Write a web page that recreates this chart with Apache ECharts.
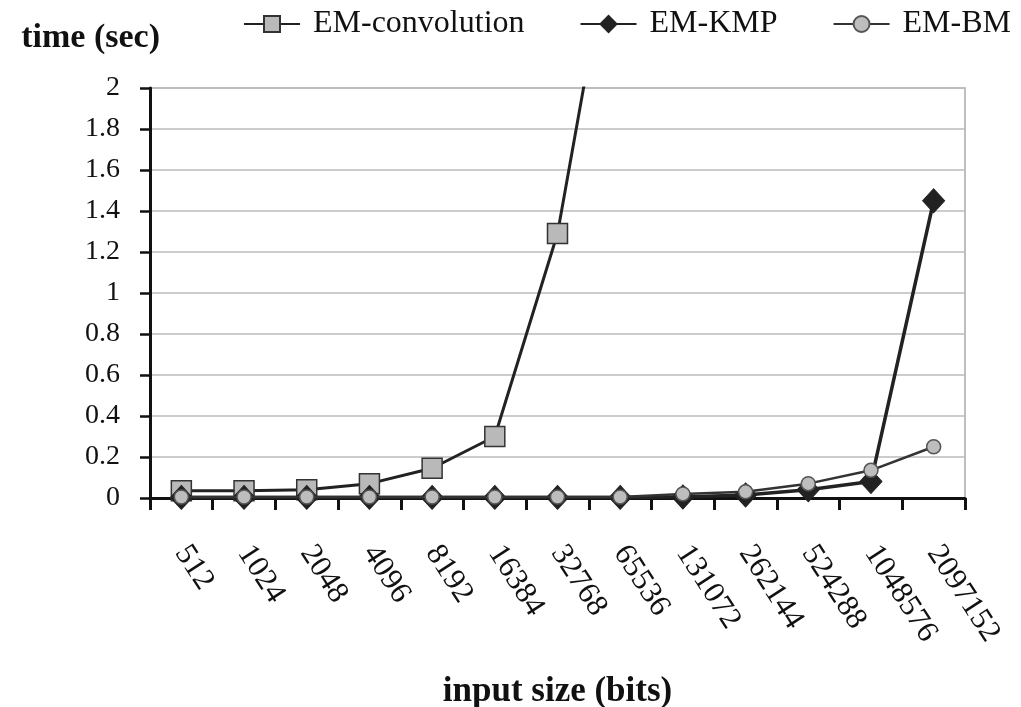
<!DOCTYPE html>
<html>
<head>
<meta charset="utf-8">
<script src="https://cdn.jsdelivr.net/npm/echarts@6/dist/echarts.min.js"></script>
<style>html,body{margin:0;padding:0;background:#fff;}#chart{width:1021px;height:707px;}</style>
</head>
<body>
<div id="chart"></div>
<script>
const categories = ['512','1024','2048','4096','8192','16384','32768','65536','131072','262144','524288','1048576','2097152'];
const emConvolution = [0.035, 0.035, 0.04, 0.07, 0.145, 0.30, 1.29, 3.0, null, null, null, null, null];
const emKMP = [0.003, 0.003, 0.003, 0.003, 0.003, 0.003, 0.003, 0.003, 0.005, 0.015, 0.04, 0.08, 1.45];
const emBM = [0.005, 0.005, 0.005, 0.005, 0.005, 0.005, 0.005, 0.005, 0.02, 0.03, 0.07, 0.135, 0.25];
const yTicks = {min: 0, max: 2, interval: 0.2};

const font = 'Liberation Serif, Times New Roman, serif';
const chart = echarts.init(document.getElementById('chart'));
chart.setOption({
  animation: false,
  backgroundColor: '#fff',
  textStyle: {fontFamily: font},
  grid: {left: 150, right: 56, top: 88, bottom: 209, show: true, borderColor: '#aaa', borderWidth: 1.5,
         containLabel: false, outerBoundsMode: 'none'},
  legend: {
    left: 238, top: 3,
    itemWidth: 56, itemHeight: 20, itemGap: 55,
    textStyle: {fontFamily: font, fontSize: 32, color: '#111', padding: [0, 0, 0, 8]},
    data: ['EM-convolution', 'EM-KMP', 'EM-BM']
  },
  xAxis: {
    type: 'category',
    data: categories,
    boundaryGap: true,
    name: 'input size (bits)',
    nameLocation: 'middle',
    nameGap: 176,
    nameTextStyle: {fontFamily: font, fontSize: 35, fontWeight: 'bold', color: '#111'},
    axisLine: {lineStyle: {color: '#111', width: 3}},
    axisTick: {show: true, length: 12, lineStyle: {color: '#111', width: 3}, alignWithLabel: false},
    axisLabel: {rotate: -57, fontFamily: font, fontSize: 31, color: '#111', margin: 50, interval: 0},
    splitLine: {show: false}
  },
  yAxis: {
    type: 'value',
    min: yTicks.min, max: yTicks.max, interval: yTicks.interval,
    name: 'time (sec)',
    nameLocation: 'end',
    nameGap: 33,
    nameTextStyle: {fontFamily: font, fontSize: 34, fontWeight: 'bold', color: '#111', align: 'right', padding: [0, -10, 0, 0]},
    axisLine: {show: true, lineStyle: {color: '#111', width: 3}},
    axisTick: {show: true, length: 10, lineStyle: {color: '#111', width: 2.5}},
    axisLabel: {fontFamily: font, fontSize: 28, color: '#111', margin: 30},
    splitLine: {show: true, lineStyle: {color: '#bbb', width: 1.5}}
  },
  series: [
    {
      name: 'EM-convolution', type: 'line', data: emConvolution,
      symbol: 'rect', symbolSize: 20, showAllSymbol: true,
      itemStyle: {color: '#b9b9b9', borderColor: '#333', borderWidth: 1.5},
      lineStyle: {color: '#222', width: 3},
      clip: true, z: 2
    },
    {
      name: 'EM-KMP', type: 'line', data: emKMP,
      symbol: 'diamond', symbolSize: [22, 24], showAllSymbol: true,
      itemStyle: {color: '#222', borderColor: '#222', borderWidth: 1},
      lineStyle: {color: '#222', width: 3.5},
      clip: true, z: 3
    },
    {
      name: 'EM-BM', type: 'line', data: emBM,
      symbol: 'circle', symbolSize: 14, showAllSymbol: true,
      itemStyle: {color: '#bdbdbd', borderColor: '#555', borderWidth: 1.5},
      lineStyle: {color: '#333', width: 2.5},
      clip: true, z: 4
    }
  ]
});
</script>
</body>
</html>
